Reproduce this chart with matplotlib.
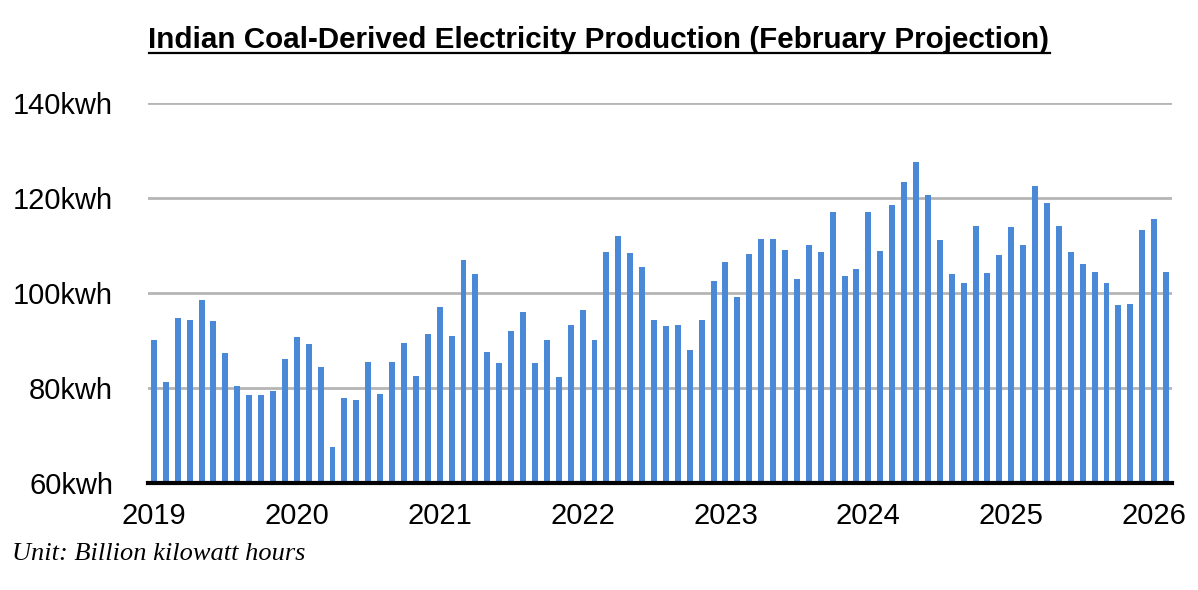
import matplotlib
matplotlib.use("Agg")
import matplotlib.pyplot as plt
from matplotlib.lines import Line2D
import numpy as np

# ==========================
# DATOS (mensuales, ene 2019 - feb 2026)
# ==========================
years = ["2019", "2020", "2021", "2022", "2023", "2024", "2025", "2026"]

vals_2019 = [90.2, 81.3, 94.8, 94.4, 98.6, 94.2, 87.4, 80.5, 78.6, 78.6, 79.4, 86.2]
vals_2020 = [90.8, 89.3, 84.5, 67.6, 77.8, 77.5, 85.5, 78.8, 85.5, 89.5, 82.6, 91.4]
vals_2021 = [97.1, 91.0, 107.0, 103.9, 87.6, 85.3, 92.1, 96.1, 85.3, 90.0, 82.4, 93.3]
vals_2022 = [96.5, 90.2, 108.7, 111.9, 108.5, 105.5, 94.4, 93.1, 93.3, 88.1, 94.4, 102.6]
vals_2023 = [106.6, 99.2, 108.3, 111.4, 111.4, 109.1, 103.0, 110.0, 108.7, 117.1, 103.6, 105.1]
vals_2024 = [117.1, 108.9, 118.6, 123.4, 127.6, 120.7, 111.2, 104.1, 102.2, 114.2, 104.3, 108.1]
vals_2025 = [113.8, 110.0, 122.6, 119.0, 114.2, 108.7, 106.2, 104.5, 102.0, 97.5, 97.7, 113.3]
vals_2026 = [115.6, 104.5]

production = (vals_2019 + vals_2020 + vals_2021 + vals_2022 + vals_2023
              + vals_2024 + vals_2025 + vals_2026)

y_ticks = [60, 80, 100, 120, 140]
y_labels = [str(v) + "kwh" for v in y_ticks]

# ==========================
# GRAFICO
# ==========================
fig = plt.figure(figsize=(11.98, 5.90), dpi=100)
ax = fig.add_axes([0.1235, 0.1814, 0.8548, 0.6440])

x = np.arange(len(production))
ax.bar(x, np.array(production) - 60, bottom=60, width=0.5, color="#4a88d8", zorder=3)

ax.set_xlim(-0.5, len(production) - 0.5)
ax.set_ylim(60, 140)

# grilla horizontal gris
ax.set_yticks(y_ticks)
ax.set_yticklabels(y_labels, fontsize=21, family="Liberation Sans")
ax.yaxis.grid(True, color="#b5b5b5", linewidth=2, zorder=0)
ax.tick_params(axis="y", length=0, pad=25)

# ticks de año en enero
ax.set_xticks(np.arange(0, len(production), 12))
ax.set_xticklabels(years, fontsize=21, family="Liberation Sans")
ax.tick_params(axis="x", length=0, pad=14)

for side in ["left", "right", "top"]:
    ax.spines[side].set_visible(False)
ax.spines["bottom"].set_color("black")
ax.spines["bottom"].set_linewidth(3)
ax.spines["bottom"].set_zorder(4)

title = fig.text(0.5, 0.9186, "Indian Coal-Derived Electricity Production (February Projection)",
                 ha="center", va="baseline", fontsize=21.3, fontweight="bold",
                 family="Liberation Sans")

fig.text(12 / 1198, 0.0508, "Unit: Billion kilowatt hours", ha="left", va="baseline",
         fontsize=19, style="italic", family="Liberation Serif")

# subrayado del titulo
fig.canvas.draw()
bb = title.get_window_extent().transformed(fig.transFigure.inverted())
y_line = 0.9186 - 5 / 590
fig.add_artist(Line2D([bb.x0, bb.x1], [y_line, y_line], color="black", linewidth=1.6,
                      transform=fig.transFigure))

fig.savefig("out.png", dpi=100)
